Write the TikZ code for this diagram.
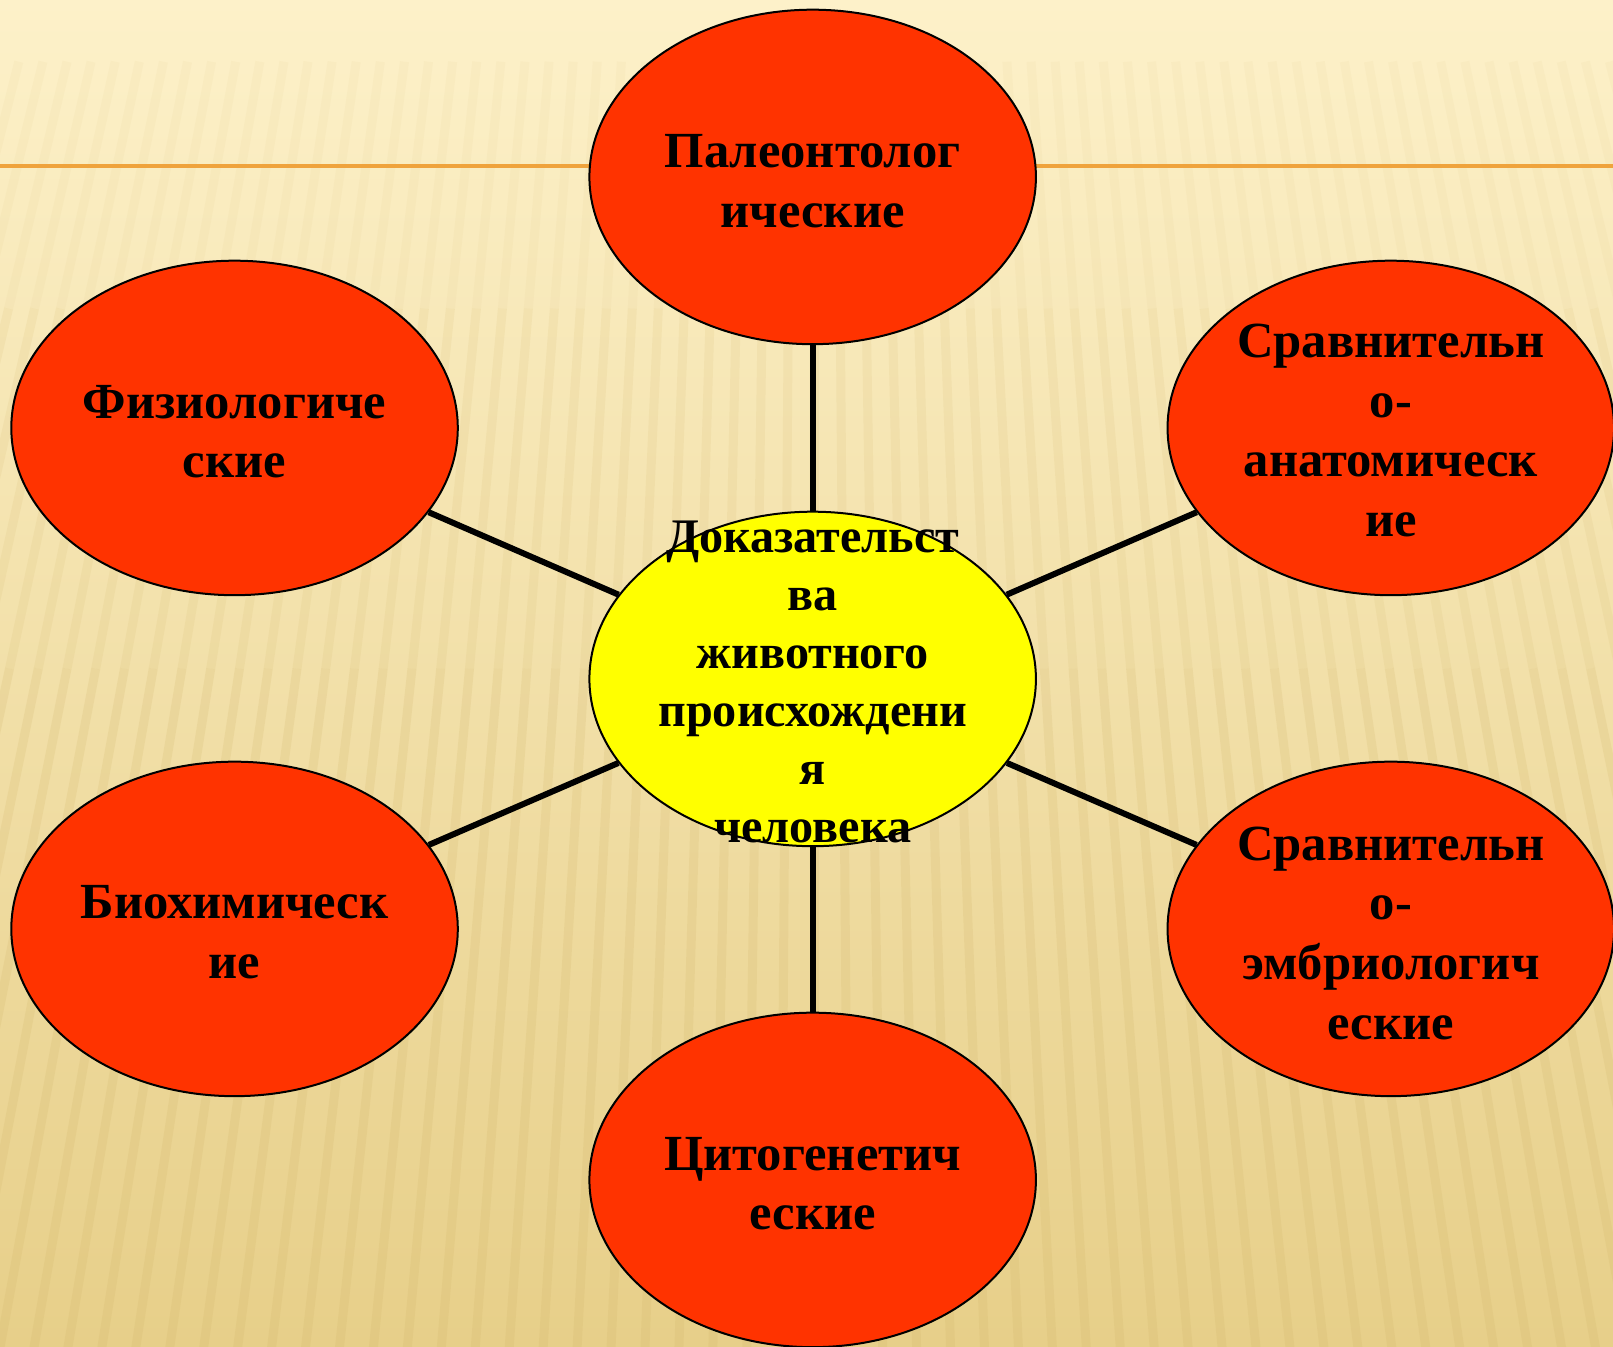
\documentclass[tikz,border=0pt]{standalone}
\usepackage{fontspec}
\setmainfont{Liberation Serif}
\usetikzlibrary{shapes.geometric}
\definecolor{bgtop}{HTML}{FDF1C9}
\definecolor{bgmid}{HTML}{F8E6B0}
\definecolor{bgbot}{HTML}{E7CF89}
\definecolor{redfill}{HTML}{FF3300}
\definecolor{yelfill}{HTML}{FFFF00}
\definecolor{orangeline}{HTML}{EFA33C}
\definecolor{stripecol}{HTML}{CFB266}
\begin{document}
\begin{tikzpicture}[x=1.0287pt,y=-1.0287pt,
  blob/.style={ellipse, draw=black, line width=2pt, minimum width=446.5pt,
    minimum height=334.5pt, inner sep=0pt, fill=redfill},
  link/.style={line width=6pt, black},
  txt/.style={font=\fontsize{50.6pt}{59.7pt}\selectfont\bfseries, align=center,
    inner sep=0pt, text=black},
  ctxt/.style={font=\fontsize{48.2pt}{58pt}\selectfont\bfseries, align=center,
    inner sep=0pt, text=black},
  stripe/.style={line width=9pt, stripecol}]
% background
\shade[top color=bgtop, middle color=bgmid, bottom color=bgbot]
  (0,0) rectangle (1568,1309.4);
\useasboundingbox (0,0) rectangle (1568,1309.4);
\begin{scope}
\clip (0,0) rectangle (1568,1309.4);
\foreach \k in {-40,...,90}{
  \pgfmathsetmacro\xb{\k*33}
  \pgfmathsetmacro\xa{790+(\xb-790)/4310*3060}
  \pgfmathsetmacro\xc{790+(\xb-790)/4310*3300}
  \pgfmathsetmacro\xd{790+(\xb-790)/4310*3650}
  \draw[stripe, opacity=0.06] (\xa,60) -- (\xc,300);
  \draw[stripe, opacity=0.12] (\xc,300) -- (\xd,650);
  \draw[stripe, opacity=0.18] (\xd,650) -- (\xb,1310);
}
\end{scope}
% decorative orange line
\draw[orangeline, line width=4pt] (0,161) -- (1568,161);
% ellipses
\node[blob] (pal) at (790,172) {};
\node[blob] (fiz) at (228,416) {};
\node[blob] (sra) at (1352,416) {};
\node[blob, fill=yelfill] (dok) at (790,660) {};
\node[blob] (bio) at (228,903) {};
\node[blob] (sre) at (1352,903) {};
\node[blob] (cit) at (790,1147) {};
% connectors
\draw[link] (dok) -- (pal);
\draw[link] (dok) -- (fiz);
\draw[link] (dok) -- (sra);
\draw[link] (dok) -- (bio);
\draw[link] (dok) -- (sre);
\draw[link] (dok) -- (cit);
% texts
\node[txt] (tpal) at (790,176) {Палеонтолог\\ические};
\node[txt] (tfiz) at (228,419.5) {Физиологиче\\ские};
\node[txt] (tsra) at (1352,418.5) {Сравнительн\\о-\\анатомическ\\ие};
\node[ctxt] (tdok) at (790,663) {Доказательст\\ва\\животного\\происхождени\\я\\человека};
\node[txt] (tbio) at (228,906) {Биохимическ\\ие};
\node[txt] (tsre) at (1352,907) {Сравнительн\\о-\\эмбриологич\\еские};
\node[txt] (tcit) at (790,1150.5) {Цитогенетич\\еские};
\end{tikzpicture}
\end{document}
